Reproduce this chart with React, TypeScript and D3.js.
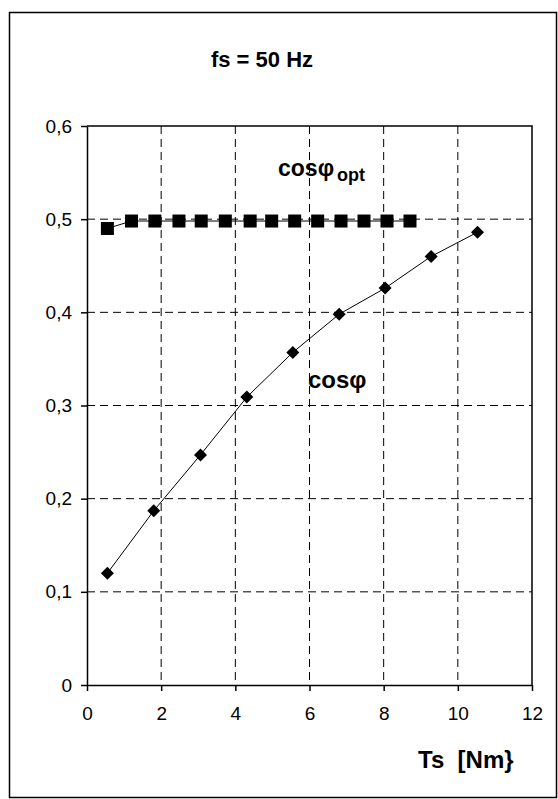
import { useEffect, useRef } from 'react';
import * as d3 from 'd3';

const optTorque = [0.55, 1.2, 1.83, 2.48, 3.08, 3.73, 4.4, 4.98, 5.6, 6.22, 6.85, 7.47, 8.09, 8.71];
const optCos = [0.49, 0.498, 0.498, 0.498, 0.498, 0.498, 0.498, 0.498, 0.498, 0.498, 0.498, 0.498, 0.498, 0.498];

const torque = [0.55, 1.8, 3.06, 4.31, 5.55, 6.8, 8.04, 9.28, 10.53];
const cosPhi = [0.12, 0.187, 0.247, 0.309, 0.357, 0.398, 0.426, 0.46, 0.486];

const xTicks = [0, 2, 4, 6, 8, 10, 12];
const yTicks = [0, 0.1, 0.2, 0.3, 0.4, 0.5, 0.6];

const FONT = 'Arial, "Liberation Sans", sans-serif';

export default function App() {
  const svgRef = useRef<SVGSVGElement | null>(null);

  useEffect(() => {
    const svgElement = svgRef.current;
    if (!svgElement) {
      return;
    }
    const svg = d3.select(svgElement);
    svg.selectAll('*').remove();

    const width = 558;
    const height = 799;
    const plot = { left: 87, right: 532, top: 126, bottom: 685 };

    svg.attr('width', width).attr('height', height);

    // outer frame of the chart area
    svg
      .append('rect')
      .attr('x', 9.5)
      .attr('y', 12.5)
      .attr('width', 547)
      .attr('height', 785)
      .attr('fill', '#fff')
      .attr('stroke', '#000')
      .attr('stroke-width', 1.5);

    const x = d3.scaleLinear().domain([0, 12]).range([plot.left, plot.right]);
    const y = d3.scaleLinear().domain([0, 0.6]).range([plot.bottom, plot.top]);

    const locale = d3.formatLocale({ decimal: ',', thousands: '.', grouping: [3], currency: ['', ''] });
    const fmtY = (v: d3.NumberValue) => (+v === 0 ? '0' : locale.format('.1f')(+v));
    const fmtX = (v: d3.NumberValue) => `${v}`;

    // dashed grid
    const grid = svg.append('g').attr('class', 'grid');
    grid
      .selectAll('line.gx')
      .data(xTicks.filter((t) => t > 0 && t < 12))
      .join('line')
      .attr('class', 'gx')
      .attr('x1', (d) => x(d))
      .attr('x2', (d) => x(d))
      .attr('y1', plot.top)
      .attr('y2', plot.bottom)
      .attr('stroke', '#000')
      .attr('stroke-dasharray', '8 5')
      .attr('stroke-width', 1);
    grid
      .selectAll('line.gy')
      .data(yTicks.filter((t) => t > 0 && t < 0.6))
      .join('line')
      .attr('class', 'gy')
      .attr('x1', plot.left)
      .attr('x2', plot.right)
      .attr('y1', (d) => y(d))
      .attr('y2', (d) => y(d))
      .attr('stroke', '#000')
      .attr('stroke-dasharray', '8 5')
      .attr('stroke-width', 1);

    // plot border top/right
    svg
      .append('path')
      .attr('d', `M${plot.left},${plot.top}H${plot.right}V${plot.bottom}`)
      .attr('fill', 'none')
      .attr('stroke', '#000')
      .attr('stroke-width', 1.5);

    const xAxis = d3.axisBottom(x).tickValues(xTicks).tickSize(6).tickSizeOuter(0).tickPadding(16).tickFormat(fmtX);
    const yAxis = d3.axisLeft(y).tickValues(yTicks).tickSize(6).tickSizeOuter(0).tickPadding(9).tickFormat(fmtY);

    const xg = svg.append('g').attr('transform', `translate(0,${plot.bottom})`).call(xAxis);
    const yg = svg.append('g').attr('transform', `translate(${plot.left},0)`).call(yAxis);
    [xg, yg].forEach((g) => {
      g.selectAll('path,line').attr('stroke', '#000').attr('stroke-width', 1.5);
      g.selectAll('text').attr('fill', '#000').attr('font-size', 19).attr('font-family', FONT);
    });

    const line = d3
      .line<[number, number]>()
      .x((d) => x(d[0]))
      .y((d) => y(d[1]));

    const optPts = optTorque.map((t, i) => [t, optCos[i]] as [number, number]);
    const pts = torque.map((t, i) => [t, cosPhi[i]] as [number, number]);

    svg.append('path').attr('d', line(optPts)).attr('fill', 'none').attr('stroke', '#000').attr('stroke-width', 1);
    svg.append('path').attr('d', line(pts)).attr('fill', 'none').attr('stroke', '#000').attr('stroke-width', 1);

    svg
      .selectAll('rect.sq')
      .data(optPts)
      .join('rect')
      .attr('class', 'sq')
      .attr('x', (d) => x(d[0]) - 6.5)
      .attr('y', (d) => y(d[1]) - 6.5)
      .attr('width', 13)
      .attr('height', 13)
      .attr('fill', '#000');

    svg
      .selectAll('path.dia')
      .data(pts)
      .join('path')
      .attr('class', 'dia')
      .attr('transform', (d) => `translate(${x(d[0])},${y(d[1])})`)
      .attr('d', 'M0,-6.5L6.5,0L0,6.5L-6.5,0Z')
      .attr('fill', '#000');

    // texts
    svg
      .append('text')
      .attr('x', 262)
      .attr('y', 67)
      .attr('text-anchor', 'middle')
      .attr('font-family', FONT)
      .attr('font-weight', 'bold')
      .attr('font-size', 22)
      .text('fs = 50 Hz');

    const optLabel = svg
      .append('text')
      .attr('x', 278)
      .attr('y', 176)
      .attr('font-family', FONT)
      .attr('font-weight', 'bold')
      .attr('font-size', 23);
    optLabel.append('tspan').text('cosφ');
    optLabel.append('tspan').attr('font-size', 18).attr('dx', 3).attr('dy', 5).text('opt');

    svg
      .append('text')
      .attr('x', 308)
      .attr('y', 388)
      .attr('font-family', FONT)
      .attr('font-weight', 'bold')
      .attr('font-size', 24)
      .text('cosφ');

    svg
      .append('text')
      .attr('x', 418)
      .attr('y', 768)
      .attr('font-family', FONT)
      .attr('font-weight', 'bold')
      .attr('font-size', 24)
      .style('white-space', 'pre')
      .text('Ts  [Nm}');
  }, []);

  return <svg ref={svgRef} style={{ position: 'absolute', left: 0, top: 0 }} />;
}
